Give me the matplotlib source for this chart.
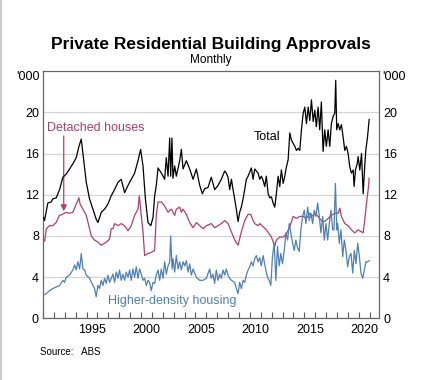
import numpy as np
import matplotlib.pyplot as plt

plt.rcParams['font.family'] = ['Liberation Sans', 'DejaVu Sans']

# ---- data ('000 dwellings, monthly) ----
total_year = [
    1991.05, 1991.14, 1991.44, 1991.75, 1991.9, 1992.21, 1992.52, 1992.82, 1993.13, 1993.44,
    1993.74, 1994.05, 1994.3, 1994.51, 1994.66, 1994.97, 1995.27, 1995.58, 1995.89, 1996.04,
    1996.35, 1996.65, 1996.96, 1997.26, 1997.57, 1997.88, 1998.18, 1998.49, 1998.8, 1999.1,
    1999.41, 1999.72, 1999.96, 2000.18, 2000.4, 2000.64, 2000.9, 2001.1, 2001.25, 2001.4,
    2001.56, 2001.87, 2002.17, 2002.32, 2002.48, 2002.63, 2002.72, 2002.84, 2002.93, 2003.09,
    2003.24, 2003.55, 2003.7, 2003.86, 2004.16, 2004.47, 2004.78, 2005.08, 2005.39, 2005.63,
    2005.85, 2006.15, 2006.45, 2006.76, 2007.07, 2007.37, 2007.68, 2007.83, 2007.99, 2008.14,
    2008.3, 2008.45, 2008.6, 2008.75, 2008.91, 2009.06, 2009.21, 2009.37, 2009.52, 2009.67,
    2009.83, 2010.13, 2010.29, 2010.44, 2010.75, 2010.9, 2011.05, 2011.21, 2011.36, 2011.51,
    2011.67, 2011.82, 2011.97, 2012.13, 2012.28, 2012.43, 2012.59, 2012.74, 2012.89, 2013.05,
    2013.2, 2013.35, 2013.51, 2013.66, 2013.81, 2013.97, 2014.12, 2014.27, 2014.43, 2014.58,
    2014.73, 2014.89, 2015.04, 2015.19, 2015.35, 2015.5, 2015.65, 2015.81, 2015.96, 2016.1,
    2016.26, 2016.41, 2016.56, 2016.72, 2016.87, 2017.02, 2017.18, 2017.33, 2017.48, 2017.64,
    2017.79, 2017.88, 2017.97, 2018.1, 2018.25, 2018.4, 2018.56, 2018.71, 2018.86, 2019.02,
    2019.17, 2019.32, 2019.48, 2019.57, 2019.69, 2019.85, 2019.94, 2020.09, 2020.25, 2020.4,
    2020.55, 2020.64, 2020.8, 2020.95]
total = [
    9.8, 9.5, 11.2, 11.3, 11.6, 11.7, 12.5, 13.7, 14.0, 14.5,
    15.0, 15.6, 16.7, 17.4, 16.0, 13.2, 11.6, 10.6, 9.6, 9.3,
    10.3, 10.6, 11.1, 11.9, 12.5, 13.2, 13.5, 12.2, 12.9, 13.5,
    14.1, 15.3, 16.4, 14.8, 11.6, 9.3, 9.0, 9.8, 11.9, 12.9,
    14.6, 14.1, 13.5, 15.6, 13.8, 17.5, 13.8, 17.5, 13.6, 14.8,
    13.8, 15.3, 16.4, 14.5, 15.3, 14.5, 13.5, 14.5, 12.9, 12.1,
    12.6, 12.7, 13.7, 12.5, 12.9, 13.5, 14.3, 14.1, 13.7, 12.5,
    13.5, 12.5, 11.6, 10.6, 9.4, 10.3, 10.8, 11.6, 12.5, 13.5,
    13.8, 14.6, 13.5, 14.5, 14.1, 13.5, 13.8, 13.4, 12.8, 13.8,
    12.1, 11.7, 11.8, 11.2, 10.8, 12.1, 13.8, 12.8, 14.4, 13.1,
    13.8, 14.7, 15.4, 18.0, 17.3, 17.0, 16.7, 16.3, 16.5, 16.3,
    18.3, 19.9, 20.5, 18.9, 20.5, 19.2, 21.2, 19.1, 20.2, 18.6,
    20.5, 18.3, 21.0, 16.2, 18.3, 16.7, 18.3, 16.7, 18.9, 19.6,
    19.9, 23.1, 18.3, 18.9, 18.3, 18.8, 17.6, 16.3, 16.7, 16.0,
    14.7, 14.1, 14.4, 12.8, 14.4, 15.0, 15.7, 14.4, 16.0, 12.1,
    14.9, 16.3, 17.6, 19.3]

detached_year = [
    1991.0, 1991.15, 1991.3, 1991.6, 1991.9, 1992.2, 1992.5, 1992.8, 1993.1, 1993.4,
    1993.74, 1994.05, 1994.3, 1994.4, 1994.66, 1994.97, 1995.2, 1995.43, 1995.73, 1996.04,
    1996.34, 1996.8, 1997.11, 1997.26, 1997.42, 1997.57, 1997.88, 1998.18, 1998.49, 1998.8,
    1999.1, 1999.41, 1999.72, 1999.84, 2000.02, 2000.18, 2000.33, 2000.64, 2000.95, 2001.25,
    2001.4, 2001.56, 2001.87, 2002.17, 2002.48, 2002.78, 2003.09, 2003.24, 2003.55, 2003.7,
    2003.86, 2004.16, 2004.47, 2004.78, 2005.08, 2005.39, 2005.7, 2006.0, 2006.45, 2006.76,
    2007.07, 2007.37, 2007.68, 2007.99, 2008.3, 2008.6, 2008.91, 2009.21, 2009.52, 2009.83,
    2010.07, 2010.29, 2010.44, 2010.75, 2010.9, 2011.51, 2011.97, 2012.28, 2012.43, 2012.74,
    2013.05, 2013.35, 2013.66, 2013.97, 2014.27, 2014.58, 2014.89, 2015.19, 2015.5, 2015.81,
    2015.95, 2016.26, 2016.56, 2016.87, 2017.18, 2017.48, 2017.79, 2018.1, 2018.25, 2018.4,
    2018.71, 2019.02, 2019.32, 2019.63, 2019.94, 2020.25, 2020.4, 2020.55, 2020.71, 2020.86,
    2020.95]
detached = [
    7.7, 7.5, 8.7, 9.0, 9.0, 9.3, 10.0, 10.1, 10.3, 10.2,
    10.3, 11.1, 11.7, 11.1, 10.6, 10.0, 9.0, 8.0, 7.6, 7.4,
    7.1, 7.4, 7.7, 8.7, 8.7, 9.2, 9.0, 9.2, 9.0, 8.5,
    9.0, 10.0, 10.6, 11.9, 10.0, 8.4, 6.1, 6.3, 6.4, 6.6,
    10.0, 11.3, 11.3, 10.9, 10.3, 10.6, 10.0, 10.6, 10.8, 10.3,
    10.6, 10.1, 9.3, 8.8, 9.3, 9.0, 8.7, 9.0, 9.2, 8.8,
    9.0, 9.2, 9.5, 9.2, 8.4, 7.6, 7.1, 8.4, 9.5, 10.1,
    10.1, 9.5, 9.2, 9.0, 9.2, 8.6, 7.9, 7.0, 7.6, 7.9,
    7.9, 8.2, 8.9, 9.9, 9.7, 9.9, 9.9, 9.7, 10.2, 9.9,
    10.2, 9.9, 9.5, 9.4, 9.7, 10.0, 10.2, 10.2, 10.7, 9.9,
    9.2, 9.0, 8.6, 8.3, 8.6, 8.4, 8.3, 9.6, 11.2, 12.5,
    13.6]

higher_year = [
    1991.0, 1991.29, 1991.6, 1991.9, 1992.21, 1992.52, 1992.82, 1992.97, 1993.13, 1993.44,
    1993.74, 1993.9, 1994.05, 1994.2, 1994.36, 1994.51, 1994.66, 1994.82, 1994.97, 1995.27,
    1995.58, 1995.73, 1995.88, 1996.04, 1996.19, 1996.34, 1996.5, 1996.65, 1996.8, 1996.96,
    1997.11, 1997.26, 1997.42, 1997.57, 1997.72, 1997.88, 1998.03, 1998.18, 1998.34, 1998.49,
    1998.64, 1998.8, 1998.95, 1999.1, 1999.26, 1999.41, 1999.56, 1999.72, 1999.87, 2000.02,
    2000.18, 2000.33, 2000.48, 2000.64, 2000.79, 2000.94, 2001.1, 2001.25, 2001.4, 2001.56,
    2001.71, 2001.86, 2002.02, 2002.17, 2002.32, 2002.48, 2002.63, 2002.72, 2002.85, 2002.94,
    2003.09, 2003.24, 2003.4, 2003.55, 2003.7, 2003.86, 2004.01, 2004.16, 2004.32, 2004.47,
    2004.62, 2004.78, 2005.08, 2005.39, 2005.7, 2006.0, 2006.3, 2006.45, 2006.61, 2006.76,
    2006.91, 2007.07, 2007.22, 2007.37, 2007.53, 2007.68, 2007.83, 2007.99, 2008.14, 2008.3,
    2008.6, 2008.75, 2008.91, 2009.06, 2009.21, 2009.37, 2009.52, 2009.67, 2009.83, 2009.98,
    2010.13, 2010.29, 2010.44, 2010.59, 2010.75, 2010.9, 2011.05, 2011.21, 2011.46, 2011.61,
    2011.77, 2011.92, 2012.07, 2012.23, 2012.38, 2012.53, 2012.69, 2012.84, 2012.99, 2013.15,
    2013.3, 2013.46, 2013.61, 2013.76, 2013.92, 2014.07, 2014.22, 2014.38, 2014.53, 2014.68,
    2014.84, 2014.99, 2015.14, 2015.3, 2015.45, 2015.6, 2015.76, 2015.91, 2016.06, 2016.22,
    2016.37, 2016.52, 2016.68, 2016.83, 2016.98, 2017.14, 2017.29, 2017.44, 2017.6, 2017.72,
    2017.85, 2017.98, 2018.06, 2018.21, 2018.36, 2018.52, 2018.67, 2018.82, 2018.98, 2019.13,
    2019.28, 2019.44, 2019.59, 2019.74, 2019.9, 2020.05, 2020.2, 2020.36, 2020.51, 2020.66,
    2020.82, 2020.97]
higher = [
    2.25, 2.4, 2.7, 2.9, 3.05, 3.2, 3.7, 3.5, 4.0, 4.2,
    4.7, 5.2, 4.7, 5.5, 4.8, 6.3, 4.8, 4.7, 4.2, 3.9,
    3.2, 2.9, 2.1, 3.2, 2.9, 3.7, 3.2, 3.9, 3.4, 4.2,
    3.5, 3.9, 4.3, 3.5, 4.5, 3.9, 4.7, 3.7, 4.3, 3.7,
    4.5, 4.0, 4.7, 3.7, 4.8, 4.0, 5.0, 3.9, 4.8, 4.3,
    3.7, 3.9, 3.2, 3.7, 3.5, 2.7, 3.5, 3.4, 4.2, 4.7,
    3.7, 4.8, 3.9, 5.5, 4.3, 5.1, 5.5, 8.0, 4.8, 5.8,
    4.5, 6.1, 4.8, 5.5, 4.7, 5.5, 5.1, 5.6, 4.5, 5.3,
    4.2, 4.8, 4.0, 3.7, 3.7, 3.9, 4.8, 3.9, 4.3, 3.4,
    4.7, 3.7, 4.3, 3.9, 4.7, 4.2, 4.8, 4.2, 3.9, 3.7,
    3.5, 2.9, 2.4, 3.5, 2.9, 3.7, 3.5, 4.2, 4.7, 5.0,
    5.5, 5.1, 5.8, 6.1, 5.5, 5.9, 5.1, 6.1, 4.7, 4.0,
    3.7, 3.2, 6.0, 7.3, 3.7, 7.0, 5.1, 6.3, 5.3, 6.6,
    8.3, 7.6, 9.2, 8.3, 7.3, 6.6, 7.6, 6.8, 6.5, 8.6,
    9.9, 10.5, 9.2, 10.8, 9.5, 10.2, 9.2, 10.5, 9.9, 11.2,
    9.9, 8.3, 9.9, 7.6, 9.2, 7.6, 9.2, 10.5, 8.6, 8.6,
    13.1, 8.6, 9.2, 7.3, 8.6, 6.0, 7.6, 6.6, 5.0, 6.0,
    6.3, 4.4, 6.6, 5.3, 7.3, 6.0, 4.4, 3.9, 4.7, 5.5,
    5.5, 5.6]

yticks = [0, 4, 8, 12, 16, 20]
year_labels = [1995, 2000, 2005, 2010, 2015, 2020]

black = '#000000'
crimson = '#b53d6a'
blue = '#4f80b5'

fig = plt.figure(figsize=(4.22, 3.80), dpi=100)
ax = fig.add_axes([0.102, 0.162, 0.796, 0.651])

ax.plot(total_year, total, color=black, lw=0.9, zorder=4)
ax.plot(detached_year, detached, color=crimson, lw=0.9, zorder=3)
ax.plot(higher_year, higher, color=blue, lw=0.9, zorder=3)

ax.set_xlim(1991, 2021.85)
ax.set_ylim(0, 24)

# year ticks at boundaries, labels centred on the year
ax.set_xticks(np.arange(1991, 2022))
ax.set_xticklabels([])
ax.set_xticks([y + 0.5 for y in year_labels], minor=True)
ax.set_xticklabels([str(y) for y in year_labels], minor=True)
ax.tick_params(axis='x', which='major', direction='in', length=4, color='#555555')
ax.tick_params(axis='x', which='minor', length=0, labelsize=9, pad=4)

ax.set_yticks(yticks)
ax.tick_params(axis='y', length=0, labelsize=9, pad=3,
               left=True, right=True, labelleft=True, labelright=True)
ax.grid(axis='y', color='#d4d4d4', lw=0.9)
ax.set_axisbelow(True)
for s in ax.spines.values():
    s.set_color('#666666')
    s.set_linewidth(0.9)

# series labels
ax.text(1991.35, 18.5, 'Detached houses', color=crimson, fontsize=9, va='center')
ax.annotate('', xy=(1992.9, 10.4), xytext=(1992.9, 17.7),
            arrowprops=dict(arrowstyle='-|>', color=crimson, lw=0.9,
                            mutation_scale=9, shrinkA=0, shrinkB=0))
ax.text(2010.35, 17.6, 'Total', color=black, fontsize=9, va='center')
ax.text(1996.95, 1.7, 'Higher-density housing', color=blue, fontsize=9, va='center')

fig.text(0.5, 0.884, 'Private Residential Building Approvals', ha='center', va='center',
         fontsize=12.5, fontweight='bold')
fig.text(0.5, 0.842, 'Monthly', ha='center', va='center', fontsize=8.5)
fig.text(0.095, 0.798, "'000", ha='right', va='center', fontsize=9)
fig.text(0.905, 0.798, "'000", ha='left', va='center', fontsize=9)
fig.text(0.095, 0.074, 'Source:   ABS', ha='left', va='center', fontsize=7)

fig.add_artist(plt.Line2D([0.002, 0.002], [0, 1], color='#cccccc', lw=1.5))

fig.savefig('out.png', dpi=100, facecolor='white')
